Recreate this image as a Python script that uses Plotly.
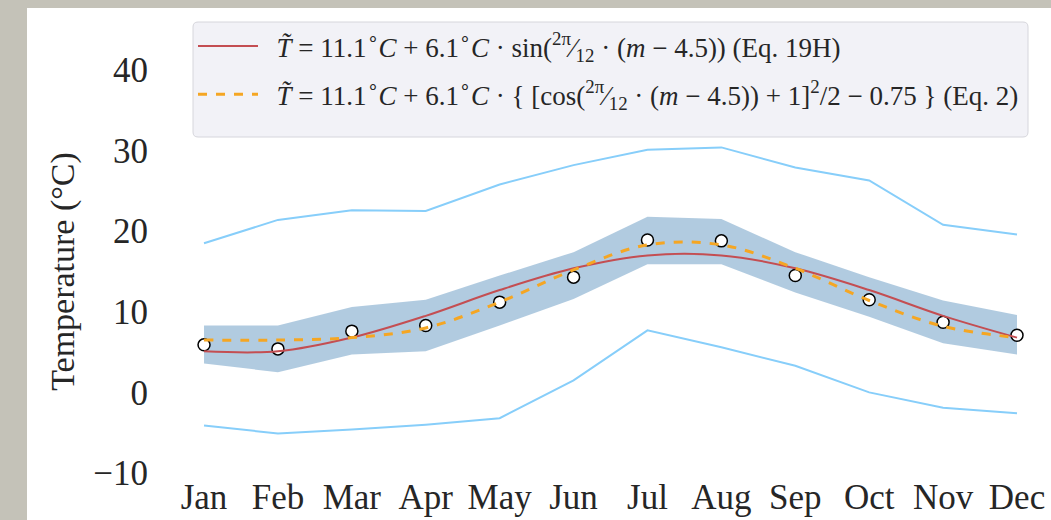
import plotly.graph_objects as go

months = ["Jan", "Feb", "Mar", "Apr", "May", "Jun", "Jul", "Aug", "Sep", "Oct", "Nov", "Dec"]
x_pos = list(range(12))

# Monthly extremes (light blue lines)
t_max = [18.5, 21.4, 22.6, 22.5, 25.8, 28.2, 30.1, 30.4, 27.9, 26.3, 20.8, 19.6]
t_min = [-4.1, -5.1, -4.6, -4.0, -3.2, 1.5, 7.7, 5.6, 3.3, 0.0, -1.9, -2.6]

# Shaded band (mean +/- spread)
band_upper = [8.3, 8.3, 10.6, 11.5, 14.5, 17.4, 21.8, 21.5, 17.4, 14.3, 11.4, 9.6]
band_lower = [3.6, 2.5, 4.7, 5.1, 8.3, 11.6, 15.9, 15.9, 12.4, 9.4, 6.1, 4.7]

# Observed monthly means (white dots)
t_obs = [5.9, 5.4, 7.6, 8.3, 11.2, 14.3, 18.9, 18.8, 14.5, 11.5, 8.7, 7.1]

# Model curves at each month
eq19h = [5.1, 5.1, 6.8, 9.5, 12.7, 15.4, 17.0, 17.0, 15.4, 12.7, 9.5, 6.8]
eq2 = [6.5, 6.5, 6.8, 8.0, 11.2, 15.2, 18.3, 18.3, 15.4, 11.4, 8.2, 6.8]

y_ticks = [-10, 0, 10, 20, 30, 40]
y_tick_text = ["\u221210", "0", "10", "20", "30", "40"]

PAD = "\u2002"
label_19h = (PAD + "<i>T\u0303</i> = 11.1<sup>\u2218</sup><i>C</i> + 6.1<sup>\u2218</sup><i>C</i> \u00b7 "
             "sin(<sup>2\u03c0</sup>\u2044<sub>12</sub> \u00b7 (<i>m</i> \u2212 4.5)) (Eq. 19H)")
label_2 = (PAD + "<i>T\u0303</i> = 11.1<sup>\u2218</sup><i>C</i> + 6.1<sup>\u2218</sup><i>C</i> \u00b7 "
           "{ [cos(<sup>2\u03c0</sup>\u2044<sub>12</sub> \u00b7 (<i>m</i> \u2212 4.5)) + 1]<sup>2</sup>/2 \u2212 0.75 } (Eq. 2)")

FONT = "Liberation Serif, Times New Roman, serif"
TXT = "#262626"

fig = go.Figure()

fig.add_trace(go.Scatter(x=x_pos, y=band_lower, mode="lines", line=dict(width=0),
                         showlegend=False, hoverinfo="skip"))
fig.add_trace(go.Scatter(x=x_pos, y=band_upper, mode="lines", line=dict(width=0),
                         fill="tonexty", fillcolor="rgba(70,130,180,0.42)",
                         showlegend=False, hoverinfo="skip"))
fig.add_trace(go.Scatter(x=x_pos, y=t_max, mode="lines", line=dict(color="#87CEFA", width=2),
                         showlegend=False))
fig.add_trace(go.Scatter(x=x_pos, y=t_min, mode="lines", line=dict(color="#87CEFA", width=2),
                         showlegend=False))
fig.add_trace(go.Scatter(x=x_pos, y=t_obs, mode="markers",
                         marker=dict(size=12, color="white", line=dict(color="black", width=1.5)),
                         showlegend=False))
fig.add_trace(go.Scatter(x=x_pos, y=eq19h, mode="lines", name=label_19h, legendgroup="a",
                         line=dict(color="#C44E52", width=2, shape="spline", smoothing=1.0)))
fig.add_trace(go.Scatter(x=x_pos, y=eq2, mode="lines", name=label_2, legendgroup="b",
                         line=dict(color="#F5A623", width=3, dash="dash", shape="spline", smoothing=1.0)))

L, R, T, B = 165, 0, 70, 47
W, H = 1051, 520
pw = W - L - R
ph = H - T - B


def px_x(p):
    return (p - L) / pw


def px_y(p):
    return (H - B - p) / ph


# white figure sheet over a grey backdrop
fig.add_shape(type="rect", xref="paper", yref="paper", layer="below",
              x0=px_x(27), x1=px_x(W + 5), y0=-0.5, y1=px_y(8),
              fillcolor="white", line=dict(width=0))

# legend frame with rounded corners
lx0, lx1, ly0, ly1, r = 193, 1028, 22, 137, 5
path = (f"M {px_x(lx0 + r)},{px_y(ly0)} L {px_x(lx1 - r)},{px_y(ly0)} "
        f"Q {px_x(lx1)},{px_y(ly0)} {px_x(lx1)},{px_y(ly0 + r)} "
        f"L {px_x(lx1)},{px_y(ly1 - r)} Q {px_x(lx1)},{px_y(ly1)} {px_x(lx1 - r)},{px_y(ly1)} "
        f"L {px_x(lx0 + r)},{px_y(ly1)} Q {px_x(lx0)},{px_y(ly1)} {px_x(lx0)},{px_y(ly1 - r)} "
        f"L {px_x(lx0)},{px_y(ly0 + r)} Q {px_x(lx0)},{px_y(ly0)} {px_x(lx0 + r)},{px_y(ly0)} Z")
fig.add_shape(type="path", path=path, xref="paper", yref="paper", layer="above",
              fillcolor="rgba(240,240,246,0.85)", line=dict(color="#D6D6DC", width=1))

fig.update_layout(
    width=W, height=H,
    margin=dict(l=L, r=R, t=T, b=B, pad=0),
    paper_bgcolor="rgb(196,194,184)",
    plot_bgcolor="#EAEAF2",
    font=dict(family=FONT, color=TXT, size=35),
    xaxis=dict(range=[-0.528, 11.46], tickmode="array", tickvals=x_pos, ticktext=months,
               showgrid=True, gridcolor="white", gridwidth=1.2, zeroline=False,
               showline=False, ticks="", tickfont=dict(size=35, family=FONT, color=TXT),
               automargin=False),
    yaxis=dict(range=[-10, 40], tickmode="array", tickvals=y_ticks, ticktext=y_tick_text,
               showgrid=True, gridcolor="white", gridwidth=1.2, zeroline=False,
               showline=False, ticks="", ticklabelstandoff=16,
               tickfont=dict(size=35, family=FONT, color=TXT),
               title=dict(text="Temperature (\u00b0C)", font=dict(size=34, family=FONT, color=TXT),
                          standoff=8),
               automargin=False),
    legend=dict(x=px_x(193), y=px_y(22), xanchor="left", yanchor="top",
                bgcolor="rgba(0,0,0,0)", borderwidth=0,
                font=dict(size=27, family=FONT, color=TXT), itemwidth=60,
                traceorder="grouped", tracegroupgap=10),
    showlegend=True,
)

fig.write_html("out.html")
